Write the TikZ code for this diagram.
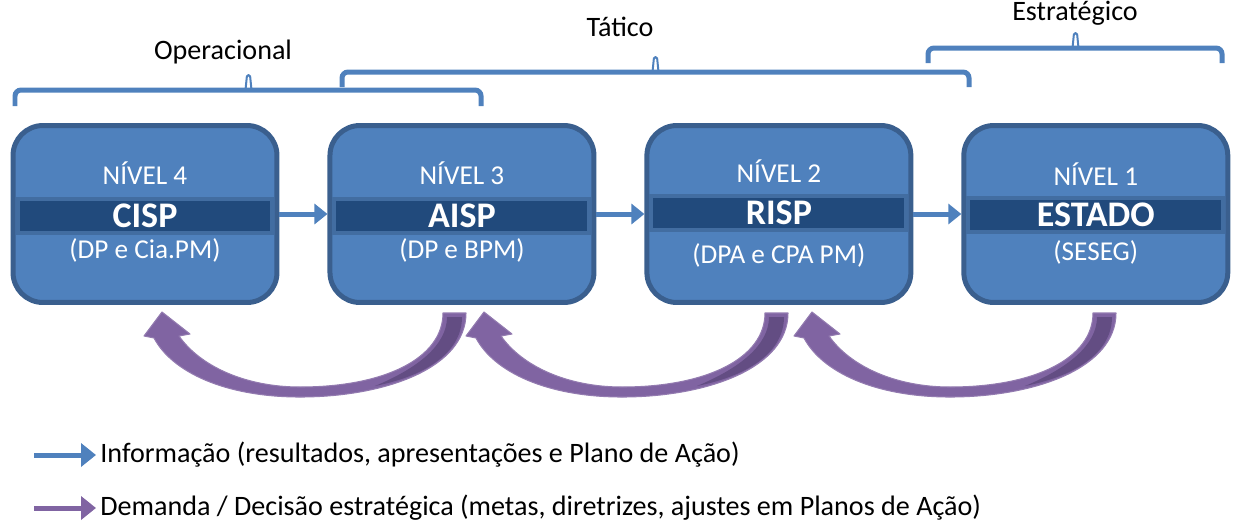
\documentclass[tikz,border=0pt]{standalone}
\usepackage{fontspec}
\setmainfont{Carlito}
\usetikzlibrary{arrows.meta, chains, positioning}
\definecolor{boxblue}{HTML}{4F81BD}
\definecolor{boxedge}{HTML}{3A5F8E}
\definecolor{bandblue}{HTML}{214A7C}
\definecolor{demand}{HTML}{8064A2}
\definecolor{demanddark}{HTML}{634D83}
\tikzset{
  level/.style={
    rectangle,
    rounded corners=0.6cm,
    minimum width=5.28cm,
    minimum height=3.54cm,
    line width=0.1cm,
    draw=boxedge,
    fill=boxblue
  },
  band/.style={
    rectangle,
    minimum width=5.1cm,
    minimum height=0.68cm,
    inner sep=0pt,
    line width=0.08cm,
    draw=boxedge!60!boxblue,
    fill=bandblue
  },
  leveltext/.style={text=white, font=\fontsize{15.5}{18}\selectfont, inner sep=0pt},
  unittext/.style={text=white, font=\fontsize{20.5}{24}\selectfont\bfseries, inner sep=0pt},
  infoarrow/.style={line width=0.1cm, draw=boxblue, -{Triangle[length=0.26cm,width=0.4cm]}},
  demandarrow/.style={fill=demand, draw=demand!85!white, line width=0.6pt, line join=round},
  demandfold/.style={fill=demanddark},
  bracket/.style={line width=0.1cm, draw=boxblue, rounded corners=0.12cm},
  brackettip/.style={line width=0.04cm, draw=boxblue, rounded corners=0.03cm},
  bracketlabel/.style={font=\fontsize{16}{19}\selectfont, inner sep=0pt},
  legend/.style={font=\fontsize{16}{19}\selectfont, inner sep=0pt, anchor=west}
}
\begin{document}
\begin{tikzpicture}[
      x=0.02cm, y=-0.02cm,
      start chain=going right,
      every join/.style={infoarrow},
      node distance=0.96cm
    ]
    \useasboundingbox (0,0) rectangle (1244,528);
    % brackets
    \draw[bracket] (15,106) -- (15,90) -- (481,90) -- (481,106);
    \draw[brackettip] (245.5,90) -- (247,75) -- (250,75) -- (251.5,90);
    \node (operacional) [bracketlabel] at (223,52) {Operacional};
    \draw[bracket] (342,87) -- (342,72) -- (969,72) -- (969,87);
    \draw[brackettip] (652.5,72) -- (654,57) -- (657,57) -- (658.5,72);
    \node (tatico) [bracketlabel] at (620,27) {Tático};
    \draw[bracket] (928,63) -- (928,48) -- (1222,48) -- (1222,63);
    \draw[brackettip] (1072.5,48) -- (1074,33) -- (1077,33) -- (1078.5,48);
    \node (estrategico) [bracketlabel] at (1075,13) {Estratégico};
    % levels
    \node (cisp) [level, on chain] at (145,214) {};
    \node (aisp) [level, on chain, join] {};
    \node (risp) [level, on chain, join] {};
    \node (estado) [level, on chain, join] {};
    \node (cispband) [band] at ([yshift=-0.04cm]cisp.center) {};
    \node (aispband) [band] at ([yshift=-0.04cm]aisp.center) {};
    \node (rispband) [band] at ([yshift=0.02cm]risp.center) {};
    \node (estadoband) [band] at ([yshift=-0.02cm]estado.center) {};
    \node (cisplevel) [leveltext] at ([yshift=0.82cm]cisp.center) {NÍVEL 4};
    \node (aisplevel) [leveltext] at ([yshift=0.82cm]aisp.center) {NÍVEL 3};
    \node (risplevel) [leveltext] at ([yshift=0.86cm]risp.center) {NÍVEL 2};
    \node (estadolevel) [leveltext] at ([yshift=0.8cm]estado.center) {NÍVEL 1};
    \node (cispunit) [unittext] at (cispband.center) {CISP};
    \node (aispunit) [unittext] at (aispband.center) {AISP};
    \node (rispunit) [unittext] at (rispband.center) {RISP};
    \node (estadounit) [unittext] at (estadoband.center) {ESTADO};
    \node (cispsub) [leveltext] at ([yshift=-0.73cm]cisp.center) {(DP e Cia.PM)};
    \node (aispsub) [leveltext] at ([yshift=-0.73cm]aisp.center) {(DP e BPM)};
    \node (rispsub) [leveltext] at ([yshift=-0.83cm]risp.center) {(DPA e CPA PM)};
    \node (estadosub) [leveltext] at ([yshift=-0.77cm]estado.center) {(SESEG)};
    % demand arrows
    \foreach \s in {0,322,650} {
      \begin{scope}[shift={(\s,0)}]
        \path[demandarrow] (466,313) .. controls (466,368) and (385,397) .. (300,397)
          .. controls (225,397) and (172,372) .. (154,338) -- (144,336) -- (162,312)
          -- (190,334) -- (179,336) .. controls (200,366) and (245,387) .. (300,387)
          .. controls (385,387) and (443,358) .. (443,313) -- cycle;
        \path[demandfold] (447,317) -- (462,317) .. controls (462,350) and (430,375) .. (375,386)
          .. controls (418,368) and (447,345) .. (447,317);
      \end{scope}
    }
    % legend
    \node (infotext) [legend] at (100,455) {Informação (resultados, apresentações e Plano de Ação)};
    \node (demandtext) [legend] at (100,508) {Demanda / Decisão estratégica (metas, diretrizes, ajustes em Planos de Ação)};
    \coordinate (infostart) at (34,455);
    \coordinate (demandstart) at (34,508);
    \draw[infoarrow, -{Triangle[length=0.3cm,width=0.46cm]}] (infostart) -- ([xshift=-0.08cm]infotext.west);
    \draw[infoarrow, draw=demand, -{Triangle[length=0.3cm,width=0.46cm]}] (demandstart) -- ([xshift=-0.08cm]demandtext.west);
\end{tikzpicture}
\end{document}
